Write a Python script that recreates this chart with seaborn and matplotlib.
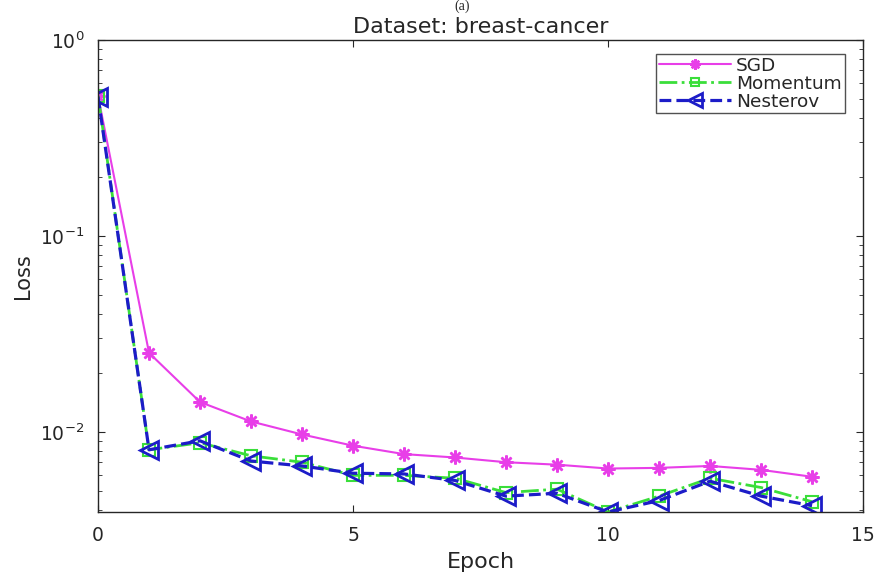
import matplotlib
matplotlib.use('Agg')
import matplotlib.pyplot as plt
import seaborn as sns
import pandas as pd

epochs = list(range(15))
sgd = [0.518, 0.0253, 0.0142, 0.0113, 0.0097, 0.0085, 0.0077, 0.0074, 0.0070, 0.0068,
       0.0065, 0.00655, 0.0067, 0.0064, 0.0059]
momentum = [0.52, 0.0081, 0.0088, 0.00755, 0.0070, 0.0060, 0.0060, 0.0058, 0.0049, 0.0051,
            0.0039, 0.0047, 0.0058, 0.0052, 0.0044]
nesterov = [0.514, 0.0081, 0.0090, 0.0071, 0.0067, 0.00615, 0.0061, 0.00565, 0.0047, 0.00486,
            0.0039, 0.00446, 0.0056, 0.0047, 0.0042]

sns.set_style('ticks')
plt.rcParams['font.family'] = ['DejaVu Sans']
plt.rcParams['mathtext.fontset'] = 'dejavusans'

fig = plt.figure(figsize=(8.76, 5.72), dpi=100)
ax = fig.add_axes([0.1119, 0.1049, 0.8733, 0.8252])

df = pd.DataFrame({'Epoch': epochs, 'SGD': sgd, 'Momentum': momentum, 'Nesterov': nesterov})

# MATLAB-ish styles: magenta '-*', green '-.s', blue '--<'
sns.lineplot(data=df, x='Epoch', y='SGD', ax=ax, color='#e83ee8', linestyle='-', marker=(8, 2, 0),
             markersize=10, markeredgecolor='#e83ee8', markeredgewidth=1.8, linewidth=1.5, label='SGD')
sns.lineplot(data=df, x='Epoch', y='Momentum', ax=ax, color='#3ade3a', linestyle='-.', marker='s',
             markersize=8, markerfacecolor='none', markeredgecolor='#3ade3a', markeredgewidth=1.5,
             linewidth=2.0, label='Momentum')
sns.lineplot(data=df, x='Epoch', y='Nesterov', ax=ax, color='#1c1cc8', linestyle='--', marker='<',
             markersize=13, markerfacecolor='none', markeredgecolor='#1c1cc8', markeredgewidth=2.0,
             linewidth=2.3, label='Nesterov')

ax.set_yscale('log')
ax.set_xlim(0, 15)
ax.set_ylim(0.0039, 1)
ax.set_xticks([0, 5, 10, 15])
ax.tick_params(axis='both', which='both', direction='in', top=True, right=True,
               labelsize=13.5, colors='#262626', labelcolor='#262626')
ax.tick_params(axis='both', which='major', length=5, pad=10)
ax.tick_params(axis='y', which='minor', length=3)
for s in ax.spines.values():
    s.set_color('#262626')
    s.set_linewidth(1.0)

ax.set_xlabel('Epoch', fontsize=16, color='#262626', labelpad=5)
ax.set_ylabel('Loss', fontsize=15, color='#262626', labelpad=5)
ax.set_title('Dataset: breast-cancer', fontsize=16, color='#262626', pad=5)
fig.text(0.528, 1.0, '(a)', family='Liberation Serif', fontsize=10, ha='center', va='top')

leg = ax.legend(loc='upper right', bbox_to_anchor=(0.976, 0.9705), fontsize=13.3, frameon=True,
                fancybox=False, edgecolor='#262626', handlelength=3.9, borderpad=0.15,
                labelspacing=0.0, handletextpad=0.3, borderaxespad=0)
leg.get_frame().set_linewidth(1.0)
for h in leg.legend_handles:
    h.set_markersize(h.get_markersize() * 0.75)

fig.savefig('out.png', dpi=100)
